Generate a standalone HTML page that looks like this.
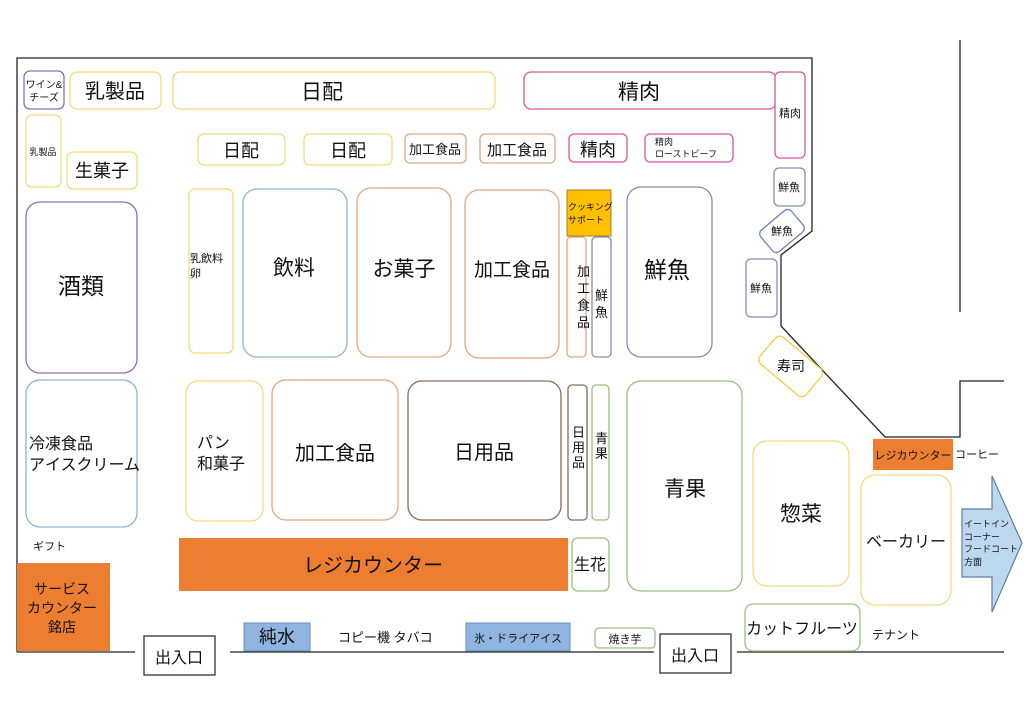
<!DOCTYPE html>
<html><head><meta charset="utf-8"><style>
html,body{margin:0;padding:0;background:#fff;width:1024px;height:709px;overflow:hidden}
svg text{font-family:"Liberation Sans","Noto Sans CJK JP",sans-serif;fill:#111}
</style></head><body>
<svg width="1024" height="709" viewBox="0 0 1024 709" xmlns="http://www.w3.org/2000/svg">
<g fill="none" stroke="#222" stroke-width="1.3">
<polyline points="17,652 17,58 812,58 812,231 781,255 781,326 885,437 960,437 960,381 1004,381"/>
<line x1="960" y1="40" x2="960" y2="312"/>
<line x1="17" y1="652" x2="135" y2="652"/>
<line x1="230" y1="652" x2="654" y2="652"/>
<line x1="737" y1="652" x2="1004" y2="652"/>
</g>
<g fill="#fff" stroke-width="1.3">
<rect x="24" y="71" width="40" height="38" rx="6" stroke="#8a6fb0"/>
<rect x="70" y="72" width="91" height="37" rx="7" stroke="#f0dc78"/>
<rect x="173" y="72" width="322" height="37" rx="7" stroke="#f0dc78"/>
<rect x="524" y="72" width="252" height="37" rx="7" stroke="#d9569b"/>
<rect x="775" y="72" width="30" height="86" rx="5" stroke="#d9569b"/>
<rect x="26" y="115" width="35" height="72" rx="6" stroke="#f0dc78"/>
<rect x="67" y="152" width="70" height="37" rx="6" stroke="#f0dc78"/>
<rect x="198" y="134" width="87" height="31" rx="6" stroke="#f0dc78"/>
<rect x="304" y="134" width="88" height="31" rx="6" stroke="#f0dc78"/>
<rect x="405" y="134" width="61" height="29" rx="5" stroke="#d9a78a"/>
<rect x="480" y="134" width="75" height="29" rx="5" stroke="#d9a78a"/>
<rect x="569" y="134" width="58" height="28" rx="5" stroke="#d9569b"/>
<rect x="645" y="134" width="88" height="28" rx="5" stroke="#d9569b"/>
<rect x="774" y="168" width="31" height="38" rx="5" stroke="#7f8fb0"/>
<rect x="762" y="217" width="40" height="28" rx="5" stroke="#6f82b8" transform="rotate(-40 782 231)"/>
<rect x="746" y="259" width="31" height="58" rx="5" stroke="#7f8fb0"/>
<rect x="761" y="349" width="60" height="35" rx="6" stroke="#f0d040" transform="rotate(40 791 366)"/>
<rect x="26" y="202" width="111" height="171" rx="14" stroke="#8a6fb0"/>
<rect x="189" y="189" width="44" height="164" rx="6" stroke="#f0dc78"/>
<rect x="243" y="189" width="104" height="168" rx="14" stroke="#8fb4d0"/>
<rect x="357" y="188" width="94" height="169" rx="14" stroke="#e0a880"/>
<rect x="465" y="190" width="94" height="168" rx="14" stroke="#e0a880"/>
<rect x="567" y="237" width="19" height="120" rx="4" stroke="#e0a880"/>
<rect x="592" y="237" width="19" height="120" rx="4" stroke="#7f8fb0"/>
<rect x="627" y="187" width="85" height="170" rx="14" stroke="#7f8fb0"/>
<rect x="26" y="380" width="111" height="147" rx="14" stroke="#8fb4d0"/>
<rect x="186" y="381" width="77" height="140" rx="12" stroke="#f0dc78"/>
<rect x="272" y="380" width="126" height="140" rx="14" stroke="#e0a880"/>
<rect x="408" y="381" width="153" height="139" rx="14" stroke="#8b6a5a"/>
<rect x="568" y="385" width="19" height="135" rx="4" stroke="#8b6a5a"/>
<rect x="592" y="385" width="17" height="135" rx="4" stroke="#9bbf80"/>
<rect x="627" y="381" width="115" height="210" rx="14" stroke="#9bbf80"/>
<rect x="753" y="441" width="96" height="145" rx="14" stroke="#f0dc78"/>
<rect x="861" y="475" width="90" height="130" rx="14" stroke="#f0dc78"/>
<rect x="572" y="538" width="37" height="53" rx="6" stroke="#9bbf80"/>
<rect x="595" y="628" width="60" height="20" rx="4" stroke="#9bbf80"/>
<rect x="745" y="604" width="115" height="47" rx="8" stroke="#9bbf80"/>
<rect x="144" y="636" width="71" height="39" stroke="#333"/>
<rect x="660" y="634" width="71" height="39" stroke="#333"/>
</g>
<rect x="567" y="190" width="44" height="46" fill="#ffc000" stroke="#a08030"/>
<rect x="873" y="439" width="80" height="31" fill="#ed7d31"/>
<rect x="179" y="538" width="389" height="53" fill="#ed7d31"/>
<rect x="17" y="563" width="93" height="88" fill="#ed7d31"/>
<rect x="244" y="623" width="66" height="28" fill="#8fb4e0" stroke="#6a8fc0"/>
<rect x="466" y="623" width="104" height="28" fill="#8fb4e0" stroke="#6a8fc0"/>
<polygon points="962,509 992,509 992,476 1022,543 992,612 992,577 962,577" fill="#bdd7ee" stroke="#5b7fa8" stroke-width="1.2"/>

<g text-anchor="middle">
<text x="44" y="88" font-size="10">ワイン&amp;</text>
<text x="44" y="101" font-size="10">チーズ</text>
<text x="115" y="98" font-size="20">乳製品</text>
<text x="322" y="99" font-size="21">日配</text>
<text x="639" y="99" font-size="21">精肉</text>
<text x="790" y="117" font-size="11">精肉</text>
<text x="43" y="155" font-size="9">乳製品</text>
<text x="102" y="177" font-size="18">生菓子</text>
<text x="241" y="157" font-size="18">日配</text>
<text x="348" y="157" font-size="18">日配</text>
<text x="435" y="154" font-size="13">加工食品</text>
<text x="517" y="155" font-size="15">加工食品</text>
<text x="598" y="156" font-size="18">精肉</text>
<text x="789" y="191" font-size="11">鮮魚</text>
<text x="782" y="235" font-size="11">鮮魚</text>
<text x="761" y="292" font-size="11">鮮魚</text>
<text x="791" y="371" font-size="14">寿司</text>
<text x="81" y="294" font-size="23">酒類</text>
<text x="294" y="275" font-size="21">飲料</text>
<text x="404" y="276" font-size="21">お菓子</text>
<text x="512" y="276" font-size="19">加工食品</text>
<text x="667" y="278" font-size="23">鮮魚</text>
<text x="335" y="460" font-size="20">加工食品</text>
<text x="484" y="459" font-size="20">日用品</text>
<text x="685" y="496" font-size="21">青果</text>
<text x="801" y="521" font-size="21">惣菜</text>
<text x="906" y="547" font-size="16">ベーカリー</text>
<text x="373" y="572" font-size="20">レジカウンター</text>
<text x="590" y="570" font-size="16">生花</text>
<text x="62" y="594" font-size="14">サービス</text>
<text x="62" y="613" font-size="14">カウンター</text>
<text x="62" y="632" font-size="14">銘店</text>
<text x="277" y="643" font-size="18">純水</text>
<text x="518" y="642" font-size="11">氷・ドライアイス</text>
<text x="625" y="643" font-size="11">焼き芋</text>
<text x="802" y="634" font-size="16">カットフルーツ</text>
<text x="179" y="663" font-size="16">出入口</text>
<text x="695" y="661" font-size="16">出入口</text>
<text x="913" y="459" font-size="11">レジカウンター</text>
</g>
<g font-size="13">
<text x="577" y="276">加</text><text x="577" y="293">工</text><text x="577" y="310">食</text><text x="577" y="327">品</text>
<text x="595" y="300">鮮</text><text x="595" y="317">魚</text>
<text x="572" y="437">日</text><text x="572" y="452">用</text><text x="572" y="467">品</text>
<text x="595" y="443">青</text><text x="595" y="458">果</text>
</g>
<text x="655" y="145" font-size="9">精肉</text>
<text x="655" y="157" font-size="9">ローストビーフ</text>
<text x="568" y="210" font-size="9">クッキング</text>
<text x="568" y="223" font-size="9">サポート</text>
<text x="190" y="262" font-size="11">乳飲料</text>
<text x="190" y="277" font-size="11">卵</text>
<text x="29" y="449" font-size="16">冷凍食品</text>
<text x="29" y="470" font-size="16">アイスクリーム</text>
<text x="197" y="448" font-size="16">パン</text>
<text x="197" y="469" font-size="16">和菓子</text>
<text x="33" y="550" font-size="11">ギフト</text>
<text x="338" y="642" font-size="13">コピー機 タバコ</text>
<text x="872" y="639" font-size="12">テナント</text>
<text x="955" y="458" font-size="11">コーヒー</text>
<g font-size="9"><text x="964" y="527">イートイン</text><text x="964" y="540">コーナー</text><text x="964" y="552">フードコート</text><text x="964" y="565">方面</text></g>
</svg>
</body></html>
